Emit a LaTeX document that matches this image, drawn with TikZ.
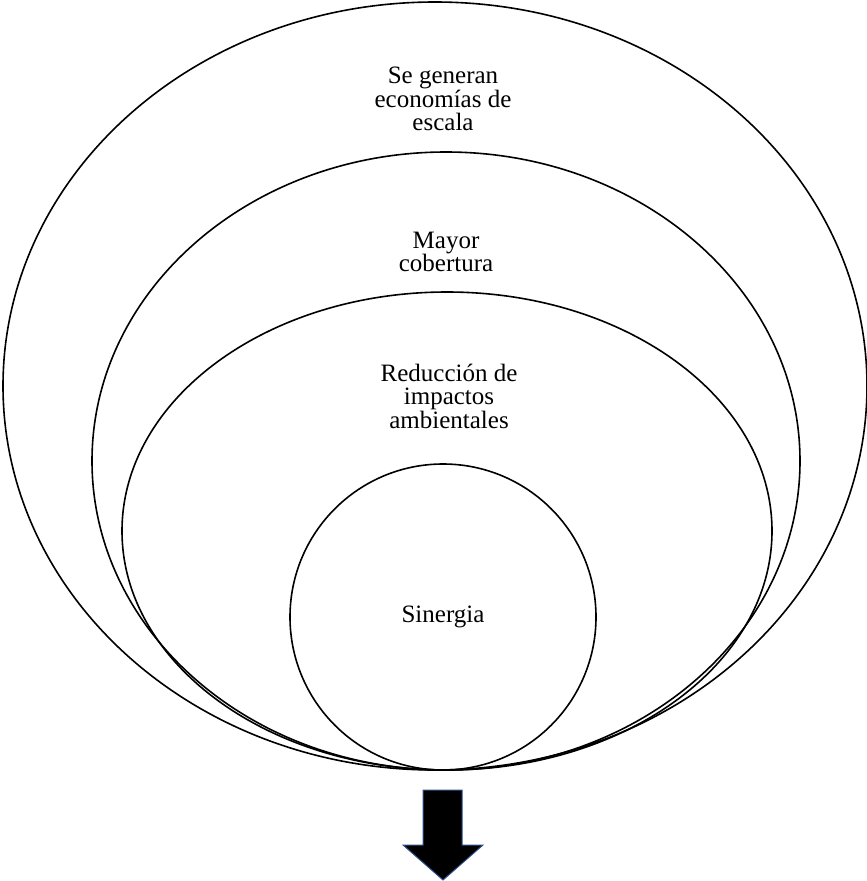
\documentclass[tikz,border=0pt]{standalone}
\usepackage{fontspec}
\setmainfont{Liberation Serif}
\usepackage{tikz}
\usetikzlibrary{positioning}
\usetikzlibrary{shapes}
\definecolor{arrowblue}{RGB}{47,82,143}
\tikzset{ring/.style={shape=ellipse, draw=black, line width=1.6pt, inner sep=0pt},
  ringtext/.style={align=center, font=\fontsize{25}{23.5}\selectfont}}

\begin{document}
\begin{tikzpicture}[x=1pt, y=-1pt]
    \useasboundingbox (0,0) rectangle (867,881);
    \node[ring, minimum width=864pt, minimum height=768pt] (escala) at (435,386) {};
    \node[ring, minimum width=708pt, minimum height=618pt] (cobertura) at (446,461) {};
    \node[ring, minimum width=650pt, minimum height=478pt] (impactos) at (447,531) {};
    \node[ring, shape=circle, minimum size=306pt] (sinergia) at (443,617) {};

    \node[ringtext] (t1) at (443,99) {Se generan\\economías de\\escala};
    \node[ringtext] (t2) at (446,252) {Mayor\\cobertura};
    \node[ringtext] (t3) at (449,396) {Reducción de\\impactos\\ambientales};
    \node[ringtext] (t4) at (sinergia) {Sinergia};

    % flecha de salida
    \draw[fill=black, draw=arrowblue, line width=1pt, line join=miter]
    (423,790) -- (462,790) -- (462,845) -- (483,845) -- (443,880)
    -- (403,845) -- (423,845) -- cycle;
  \end{tikzpicture}
\end{document}
